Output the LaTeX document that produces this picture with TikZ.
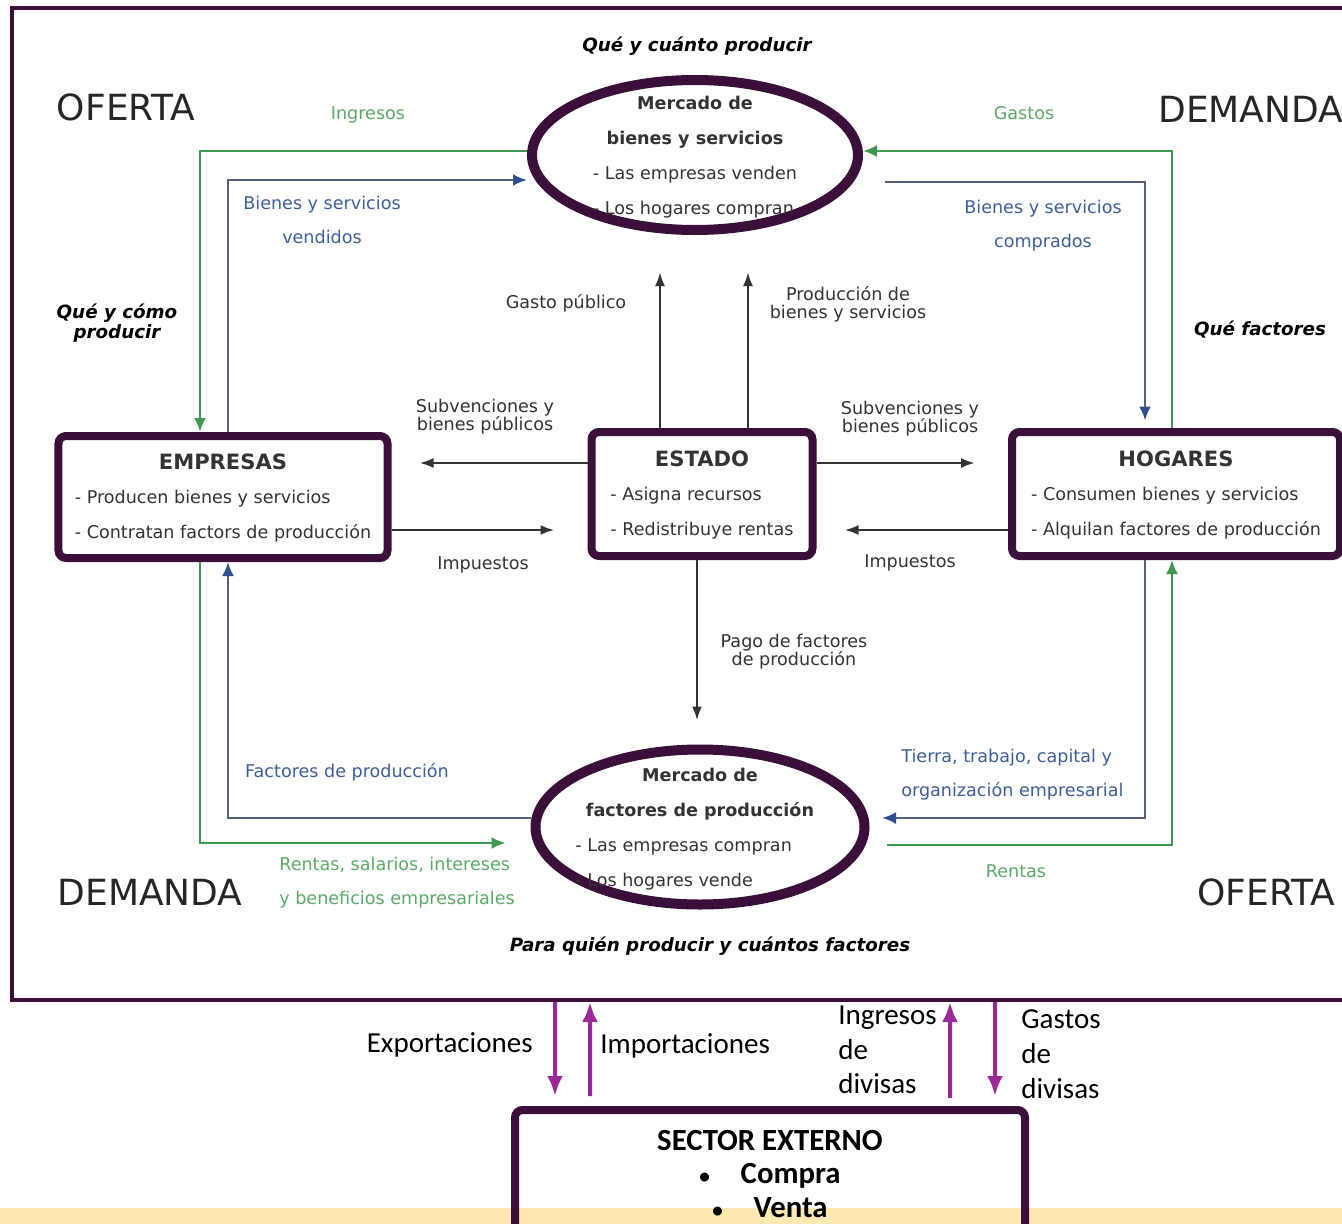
\documentclass[tikz,border=0pt]{standalone}
\usepackage{fontspec}
\setmainfont{DejaVu Sans}
\newfontfamily\calibri{Carlito}
\usetikzlibrary{shapes,arrows.meta}

\definecolor{marco}{HTML}{3B0F3A}
\definecolor{morado}{HTML}{9B2A98}
\definecolor{verde}{HTML}{3F9A50}
\definecolor{verdeclaro}{HTML}{5AAA68}
\definecolor{azul}{HTML}{2F4F8F}
\definecolor{azulgris}{HTML}{55627E}
\definecolor{azultexto}{HTML}{3D5E9C}
\definecolor{gris}{HTML}{333333}
\definecolor{banda}{HTML}{FDE8B2}

\renewcommand{\arraystretch}{1.65}
\newcommand{\titulo}[1]{{\fontsize{12}{12}\selectfont\bfseries #1}}
\newcommand{\punto}{{\fontsize{12}{12}\selectfont\textbullet}}

\tikzset{
	marcobox/.style={draw=marco, line width=0.8mm, inner sep=0pt},
	caja/.style={draw=marco, line width=1.6mm, rounded corners=1.5mm, text=gris, inner sep=0pt,
		font=\fontsize{10}{12}\selectfont},
	mercado/.style={ellipse, draw=marco, line width=2mm, inner sep=0pt},
	contenido/.style={text=gris, inner sep=0pt, font=\fontsize{10}{12}\selectfont},
	texto/.style={text=gris, font=\fontsize{10}{10.2}\selectfont, align=center, inner sep=0pt},
	textoverde/.style={texto, text=verdeclaro, font=\fontsize{10}{19.5}\selectfont},
	textoazul/.style={texto, text=azultexto, font=\fontsize{10}{19.5}\selectfont},
	pregunta/.style={texto, text=black, font=\fontsize{10.4}{9.8}\selectfont\bfseries\itshape},
	grande/.style={text=black!85, font=\fontsize{20.5}{24}\selectfont, inner sep=0pt},
	externo/.style={text=black, font=\calibri\fontsize{16.5}{19.8}\selectfont, inner sep=0pt, align=left},
	flujo/.style={line width=0.5mm},
	verdeflujo/.style={flujo, draw=verde, -{Latex[length=2.8mm, width=2.4mm]}},
	azulflujo/.style={flujo, draw=azulgris, -{Latex[length=2.8mm, width=2.4mm, color=azul]}},
	negroflujo/.style={flujo, draw=gris, -{Latex[length=2.8mm, width=2mm]}},
	divisa/.style={line width=0.8mm, draw=morado, -{Latex[length=4mm, width=3.2mm]}}
}

\begin{document}
\begin{tikzpicture}[x=0.2mm, y=-0.2mm]
	\useasboundingbox (0,0) rectangle (1342,1224);
	\fill[banda] (0,1208) rectangle (1342,1224);
	\node[marcobox, minimum width=268mm, minimum height=198.4mm] (circuito) at (682,504) {};

	\node[mercado, minimum width=65.2mm, minimum height=30mm,
		label={[contenido]center:{\begin{tabular}{@{}l@{}}\multicolumn{1}{c}{\textbf{Mercado de}}\\\multicolumn{1}{c}{\textbf{bienes y servicios}}\\- Las empresas venden\\- Los hogares compran\end{tabular}}}] (mbs) at (695,155) {};
	\node[mercado, minimum width=65.8mm, minimum height=31mm,
		label={[contenido]center:{\begin{tabular}{@{}l@{}}\multicolumn{1}{c}{\textbf{Mercado de}}\\\multicolumn{1}{c}{\textbf{factores de producción}}\\- Las empresas compran\\- Los hogares vende\end{tabular}}}] (mfp) at (700,827) {};
	\node[caja, minimum width=65.8mm, minimum height=24.4mm] (empresas) at (223,497)
		{\begin{tabular}{@{}l@{}}\multicolumn{1}{c}{\titulo{EMPRESAS}}\\- Producen bienes y servicios\\- Contratan factors de producción\end{tabular}};
	\node[caja, minimum width=44.2mm, minimum height=24.8mm] (estado) at (702,494)
		{\begin{tabular}{@{}l@{}}\multicolumn{1}{c}{\titulo{ESTADO}}\\- Asigna recursos\\- Redistribuye rentas\end{tabular}};
	\node[caja, minimum width=65.6mm, minimum height=24.8mm] (hogares) at (1176,494)
		{\begin{tabular}{@{}l@{}}\multicolumn{1}{c}{\titulo{HOGARES}}\\- Consumen bienes y servicios\\- Alquilan factores de producción\end{tabular}};
	\node[caja, text=black, align=center, font=\calibri\fontsize{17.5}{19.3}\selectfont\bfseries,
		minimum width=102mm, minimum height=25.6mm] (sector) at (770,1174)
		{SECTOR EXTERNO\\\punto\quad Compra\\\punto\quad Venta};

	\draw[verdeflujo] ([yshift=0.8mm]mbs.west) -| ([xshift=-4.6mm]empresas.north);
	\draw[azulflujo] ([xshift=1mm]empresas.north) |- ([yshift=-5mm]mbs.west);
	\draw[azulflujo, shorten <=4.4mm, shorten >=1.5mm] ([yshift=-5.4mm]mbs.east) -| ([xshift=-6.2mm]hogares.north);
	\draw[verdeflujo] ([xshift=-0.8mm]hogares.north) |- ([yshift=0.8mm]mbs.east);
	\draw[azulflujo, shorten >=2.5mm] ([xshift=-6.2mm]hogares.south) |- ([yshift=1.8mm]mfp.east);
	\draw[verdeflujo, shorten <=3.5mm] ([yshift=-3.6mm]mfp.east) -| ([xshift=-0.8mm]hogares.south);
	\draw[azulflujo] ([yshift=1.8mm]mfp.west) -| ([xshift=1mm]empresas.south);
	\draw[verdeflujo, shorten >=5mm] ([xshift=-4.6mm]empresas.south) |- ([yshift=-3.2mm]mfp.west);

	\draw[negroflujo, shorten >=7.4mm] ([xshift=-8.4mm]estado.north) -- ([xshift=-8.4mm]estado.north |- mbs.south);
	\draw[negroflujo, shorten >=7.4mm] ([xshift=9.2mm]estado.north) -- ([xshift=9.2mm]estado.north |- mbs.south);
	\draw[negroflujo, shorten >=5.6mm] ([yshift=6.2mm]estado.west) -- ([yshift=6.2mm]estado.west -| empresas.east);
	\draw[negroflujo, shorten >=6.6mm] ([yshift=6.2mm]estado.east) -- ([yshift=6.2mm]estado.east -| hogares.west);
	\draw[negroflujo, shorten >=6.6mm] ([yshift=-6.6mm]empresas.east) -- ([yshift=-6.6mm]empresas.east -| estado.west);
	\draw[negroflujo, shorten >=5.6mm] ([yshift=-7.2mm]hogares.west) -- ([yshift=-7.2mm]hogares.west -| estado.east);
	\draw[negroflujo, shorten >=4.8mm] ([xshift=-1mm]estado.south) -- ([xshift=-1mm]estado.south |- mfp.north);

	\draw[divisa, shorten >=2mm] ([xshift=-25.4mm]circuito.south) -- ([xshift=-43mm]sector.north);
	\draw[divisa, shorten <=2mm] ([xshift=-36mm]sector.north) -- ([xshift=-18.4mm]circuito.south);
	\draw[divisa, shorten <=1.6mm] ([xshift=36mm]sector.north) -- ([xshift=53.6mm]circuito.south);
	\draw[divisa, shorten >=2mm] ([xshift=62.6mm]circuito.south) -- ([xshift=45mm]sector.north);

	\node[pregunta] (qcuanto) at (697,46) {Qué y cuánto producir};
	\node[grande] (oferta1) at (126,107) {OFERTA};
	\node[grande, anchor=west] (demanda1) at (1158,109) {DEMANDA};
	\node[grande] (demanda2) at (150,892) {DEMANDA};
	\node[grande, anchor=west] (oferta2) at (1197,892) {OFERTA};
	\node[textoverde] (ingresos) at (368,115) {Ingresos};
	\node[textoverde] (gastos) at (1024,113) {Gastos};
	\node[textoazul] (vendidos) at (322,220) {Bienes y servicios\\vendidos};
	\node[textoazul] (comprados) at (1043,226) {Bienes y servicios\\comprados};
	\node[pregunta] (qcomo) at (117,323) {Qué y cómo\\producir};
	\node[pregunta] (qfactores) at (1260,330) {Qué factores};
	\node[texto] (gasto) at (566,303) {Gasto público};
	\node[texto] (produccion) at (848,304) {Producción de\\bienes y servicios};
	\node[texto] (subv1) at (485,417) {Subvenciones y\\bienes públicos};
	\node[texto] (subv2) at (910,419) {Subvenciones y\\bienes públicos};
	\node[texto] (imp1) at (483,565) {Impuestos};
	\node[texto] (imp2) at (910,563) {Impuestos};
	\node[texto] (pago) at (794,652) {Pago de factores\\de producción};
	\node[textoazul] (factores) at (347,772) {Factores de producción};
	\node[textoazul, align=left, anchor=west] (tierra) at (901,775) {Tierra, trabajo, capital y\\organización empresarial};
	\node[textoverde, align=left, anchor=west] (rentas1) at (279,883) {Rentas, salarios, intereses\\y beneficios empresariales};
	\node[textoverde] (rentas2) at (1016,871) {Rentas};
	\node[pregunta] (qquien) at (710,946) {Para quién producir y cuántos factores};
	\node[externo, anchor=east] (expo) at (533,1045) {Exportaciones};
	\node[externo, anchor=west] (impo) at (600,1046) {Importaciones};
	\node[externo, anchor=west] (ingdiv) at (838,1050) {Ingresos\\de\\divisas};
	\node[externo, anchor=west] (gasdiv) at (1021,1054) {Gastos\\de\\divisas};
\end{tikzpicture}
\end{document}
